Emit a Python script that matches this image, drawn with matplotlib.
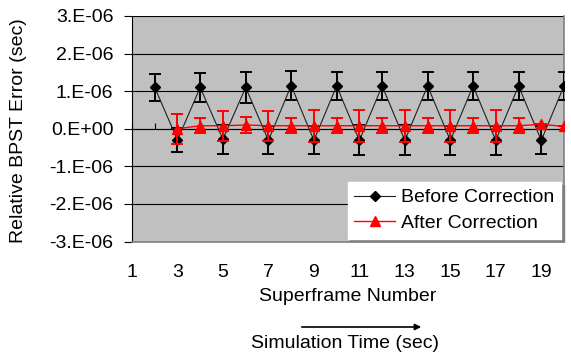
import numpy as np
import matplotlib
matplotlib.use('Agg')
import matplotlib.pyplot as plt
from matplotlib.patches import FancyArrowPatch

plt.rcParams['font.family'] = ['Liberation Sans', 'DejaVu Sans']

# Data (units of 1e-6 sec)
before_frames = list(range(2, 21))
before_vals = [1.10, -0.30, 1.10, -0.28, 1.10, -0.31, 1.15, -0.31, 1.14, -0.31,
               1.14, -0.31, 1.14, -0.31, 1.14, -0.31, 1.14, -0.31, 1.14]
before_err = [0.35, 0.33, 0.39, 0.38, 0.41, 0.37, 0.38, 0.37, 0.38, 0.40,
              0.38, 0.40, 0.38, 0.38, 0.38, 0.38, 0.38, 0.37, 0.38]

after_frames = list(range(3, 21))
after_vals = [0.0, 0.08, 0.08, 0.10, 0.08, 0.08, 0.08, 0.08, 0.08, 0.08,
              0.08, 0.08, 0.08, 0.08, 0.08, 0.08, 0.12, 0.06]
after_err = [0.40, 0.20, 0.40, 0.20, 0.40, 0.20, 0.42, 0.20, 0.42, 0.20,
             0.42, 0.20, 0.42, 0.20, 0.42, 0.20, 0.0, 0.0]

yticks = [-3, -2, -1, 0, 1, 2, 3]
ytick_labels = ['-3.E-06', '-2.E-06', '-1.E-06', '0.E+00', '1.E-06', '2.E-06', '3.E-06']
xticks = list(range(1, 21, 2))

scale = 1e-6
fs = 14
fig = plt.figure(figsize=(5.71, 3.58), dpi=100)
ax = fig.add_axes([132 / 571, 1 - 241.5 / 358, 432 / 571, 225.5 / 358])
ax.set_facecolor('#C0C0C0')

for y in yticks:
    ax.axhline(y * scale, color='black', lw=0.8, zorder=1)

bv = np.array(before_vals) * scale
av = np.array(after_vals) * scale

ax.errorbar(before_frames, bv, yerr=np.array(before_err) * scale, fmt='none',
            ecolor='black', elinewidth=1.4, capsize=4.2, capthick=1.4, zorder=3)
ax.plot(before_frames, bv, color='#202020', lw=0.8, marker='D', markersize=5.5,
        markerfacecolor='black', markeredgecolor='black', label='Before Correction', zorder=3)
ax.errorbar(after_frames, av, yerr=np.array(after_err) * scale, fmt='none',
            ecolor='#FF0000', elinewidth=1.4, capsize=4.2, capthick=1.4, zorder=4)
ax.plot(after_frames, av, color='#FF0000', lw=1.0, marker='^', markersize=7,
        label='After Correction', zorder=4)

ax.set_xlim(1, 20)
ax.set_ylim(-3 * scale, 3 * scale)
ax.set_yticks([y * scale for y in yticks])
ax.set_yticklabels(ytick_labels, fontsize=fs)
ax.set_xticks(xticks)
ax.set_xticklabels([str(x) for x in xticks], fontsize=fs)
ax.tick_params(axis='x', length=0, pad=16)
ax.tick_params(axis='y', length=5.5, width=0.8, pad=8)

for side in ['right', 'bottom']:
    ax.spines[side].set_color('#808080')
    ax.spines[side].set_linewidth(1.2)
ax.spines['top'].set_visible(False)
ax.spines['left'].set_color('black')

# category axis crossing at zero
sec = ax.secondary_xaxis(0.5)
sec.set_xticks(list(range(1, 21)))
sec.set_xticklabels([])
sec.tick_params(direction='out', length=4, width=0.8, color='black')
sec.spines['bottom'].set_color('black')

ax.set_ylabel('Relative BPST Error (sec)', fontsize=fs, va='center')
ax.yaxis.set_label_coords(-0.262, 0.49)
ax.set_xlabel('Superframe Number', fontsize=fs, labelpad=5)

leg = ax.legend(loc='lower right', fontsize=fs, frameon=True, fancybox=False,
                shadow={'color': '#808080', 'alpha': 1}, borderaxespad=0.15,
                handlelength=2.1, handletextpad=0.3, borderpad=0.35, labelspacing=0.4)
leg.get_frame().set_edgecolor('white')
leg.get_frame().set_facecolor('white')
leg.get_frame().set_alpha(1)

fig.text(345 / 571, 1 - 343 / 358, 'Simulation Time (sec)', fontsize=fs, ha='center', va='center')
fig.patches.append(FancyArrowPatch(
    (299 / 571, 1 - 327 / 358), (424 / 571, 1 - 327 / 358), transform=fig.transFigure,
    arrowstyle='-|>', mutation_scale=9, color='black', lw=1.2))

fig.savefig('out.png', dpi=100)
